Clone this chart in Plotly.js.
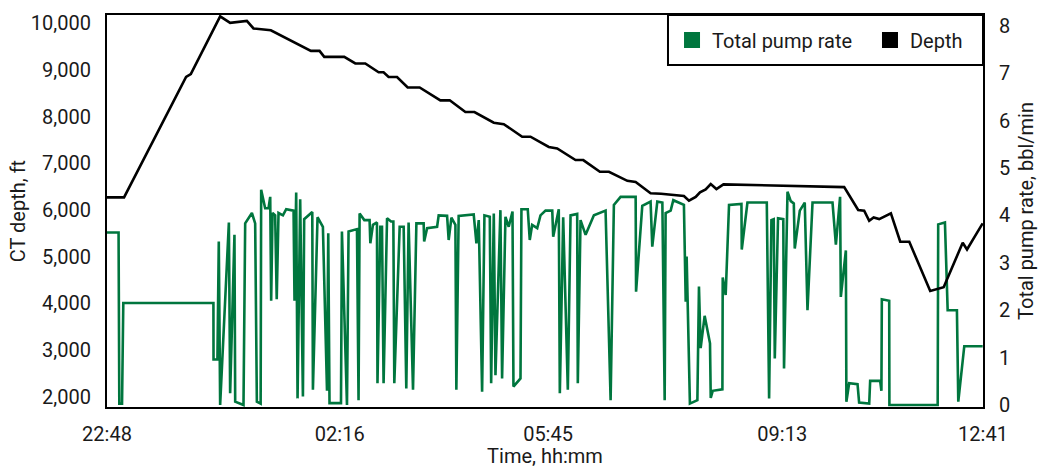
<!DOCTYPE html>
<html>
<head>
<meta charset="utf-8">
<script src="https://cdn.plot.ly/plotly-3.0.1.min.js"></script>
<style>html,body{margin:0;padding:0;background:#fff;}#chart{width:1041px;height:468px;}</style>
</head>
<body>
<div id="chart"></div>
<script>
// Elapsed minutes since 22:48
const depthTime = [0, 16.2, 75.2, 79.7, 107.6, 117.1, 133.0, 139.3, 155.8, 193.9, 202.1, 206.6, 225.6, 236.1, 245.6, 258.3, 263.0, 267.8, 275.8, 285.9, 297.3, 317.0, 325.9, 340.8, 349.4, 367.8, 377.3, 394.8, 402.7, 420.1, 428.1, 445.5, 452.9, 468.7, 477.3, 494.8, 502.7, 516.9, 526.9, 548.6, 553.4, 559.8, 563.9, 569.3, 574.1, 579.5, 586.2, 701.0, 714.3, 720.0, 724.8, 729.0, 734.3, 745.4, 754.3, 762.9, 782.8, 795.6, 813.7, 817.8, 832.7];
const depthFt = [6270, 6270, 8850, 8910, 10150, 10010, 10050, 9890, 9850, 9410, 9410, 9280, 9280, 9140, 9140, 8950, 8950, 8850, 8850, 8625, 8625, 8350, 8350, 8100, 8100, 7870, 7840, 7570, 7570, 7350, 7320, 7070, 7070, 6820, 6820, 6625, 6600, 6360, 6350, 6300, 6200, 6280, 6380, 6440, 6555, 6450, 6550, 6490, 6000, 5985, 5770, 5840, 5805, 5930, 5320, 5320, 4265, 4345, 5300, 5155, 5715];

const pumpTime = [0, 11.0, 11.7, 14.3, 15.5, 101.2, 101.3, 105.0, 106.3, 107.6, 115.9, 117.1, 121.2, 121.9, 129.8, 131.4, 137.8, 140.9, 142.5, 146.1, 146.6, 150.4, 153.6, 155.2, 156.1, 157.4, 159.9, 161.4, 163.1, 167.3, 170.4, 177.4, 178.3, 179.9, 181.2, 183.7, 186.3, 187.5, 195.2, 195.8, 200.2, 205.3, 209.2, 210.4, 211.6, 222.5, 223.4, 228.2, 229.7, 237.7, 239.2, 240.2, 244.7, 249.7, 250.4, 252.9, 256.7, 257.2, 259.9, 261.5, 263.0, 266.3, 270.1, 272.3, 273.2, 278.3, 282.1, 284.6, 286.8, 291.0, 294.2, 301.1, 301.6, 304.4, 313.9, 315.4, 323.4, 324.9, 327.5, 331.3, 332.2, 334.4, 348.7, 351.3, 353.5, 356.7, 358.9, 364.0, 365.3, 367.8, 369.4, 374.1, 375.7, 378.9, 382.0, 385.6, 386.5, 393.2, 394.1, 400.1, 402.0, 404.3, 409.1, 412.2, 417.0, 423.4, 424.3, 429.6, 430.6, 433.8, 438.2, 440.8, 447.1, 447.7, 450.3, 455.1, 463.0, 474.1, 478.9, 482.0, 488.4, 502.7, 503.1, 509.0, 516.9, 518.5, 523.3, 528.1, 530.3, 531.2, 536.0, 538.5, 548.6, 550.3, 551.2, 554.3, 561.4, 562.9, 564.5, 568.3, 573.4, 574.1, 576.0, 585.2, 585.5, 588.3, 591.5, 603.3, 603.6, 609.0, 627.4, 629.6, 631.8, 634.0, 635.0, 638.1, 643.1, 643.8, 647.1, 650.2, 653.1, 654.0, 658.8, 663.5, 666.1, 670.9, 689.9, 693.1, 697.1, 697.8, 702.6, 703.1, 705.7, 713.7, 715.2, 724.8, 725.7, 735.2, 736.4, 736.8, 743.8, 744.0, 789.9, 790.4, 796.8, 799.4, 808.2, 809.5, 815.2, 832.7];
const pumpRate = [3.64, 3.64, 0.03, 0.03, 2.15, 2.15, 0.96, 0.96, 3.45, 0.0, 3.85, 0.25, 3.59, 0.07, 0.0, 3.83, 4.05, 3.83, 0.07, 0.03, 4.54, 4.15, 4.15, 4.39, 2.2, 4.05, 4.0, 2.23, 4.05, 4.0, 4.13, 4.1, 2.2, 4.48, 0.14, 4.34, 0.18, 3.92, 4.07, 0.32, 3.96, 3.76, 0.3, 3.62, 0.04, 0.04, 3.66, 0.0, 3.66, 3.71, 0.1, 4.04, 3.9, 3.9, 3.41, 3.8, 3.85, 0.46, 3.76, 3.76, 0.46, 3.94, 3.87, 3.87, 0.46, 3.76, 3.76, 0.35, 3.85, 0.32, 3.83, 3.83, 3.45, 3.73, 3.76, 4.0, 3.99, 3.48, 3.95, 3.8, 0.32, 3.99, 4.02, 3.41, 3.9, 0.28, 4.0, 3.97, 0.46, 4.04, 0.63, 4.11, 0.56, 3.97, 3.76, 4.08, 0.39, 0.56, 4.13, 4.13, 3.48, 3.8, 3.73, 4.0, 4.1, 4.1, 3.55, 4.13, 0.25, 3.96, 0.32, 4.0, 4.03, 0.46, 3.9, 3.59, 4.0, 4.1, 0.1, 4.22, 4.39, 4.39, 2.39, 4.2, 4.29, 3.34, 4.29, 4.27, 0.1, 4.05, 4.1, 4.32, 4.22, 2.18, 3.13, 0.03, 0.1, 2.5, 1.2, 1.88, 1.3, 0.15, 0.3, 0.33, 2.69, 2.32, 4.22, 4.24, 3.28, 4.27, 4.27, 0.14, 3.9, 3.92, 0.98, 3.94, 3.92, 0.77, 4.5, 4.3, 4.25, 3.3, 4.1, 4.27, 2.0, 4.27, 4.27, 3.38, 4.39, 2.28, 3.26, 0.07, 0.46, 0.44, 0.05, 0.03, 0.51, 0.51, 0.3, 2.23, 2.2, 0.0, 0.0, 3.81, 3.85, 2.0, 2.0, 0.07, 1.24, 1.24];

const xTickVals = [0, 221.3, 419.4, 642.1, 833];
const xTickText = ['22:48', '02:16', '05:45', '09:13', '12:41'];
const depthTicks = [2000, 3000, 4000, 5000, 6000, 7000, 8000, 9000, 10000];
const depthTickText = ['2,000', '3,000', '4,000', '5,000', '6,000', '7,000', '8,000', '9,000', '10,000'];
const rateTicks = [0, 1, 2, 3, 4, 5, 6, 7, 8];

const GREEN = '#00763E';
const FONT = 'Roboto, sans-serif';
const TXT = '#1a1a1a';
const FS = 20;

const traces = [
  {x: pumpTime, y: pumpRate, type: 'scatter', mode: 'lines', name: 'Total pump rate',
   line: {color: GREEN, width: 2.6}, yaxis: 'y', showlegend: false, hoverinfo: 'skip'},
  {x: depthTime, y: depthFt, type: 'scatter', mode: 'lines', name: 'Depth',
   line: {color: '#000', width: 2.6}, yaxis: 'y2', showlegend: false, hoverinfo: 'skip'},
  {x: [null], y: [null], type: 'scatter', mode: 'markers', name: 'Total pump rate',
   marker: {symbol: 'square', size: 17, color: GREEN}, yaxis: 'y', showlegend: true, legend: 'legend'},
  {x: [null], y: [null], type: 'scatter', mode: 'markers', name: 'Depth',
   marker: {symbol: 'square', size: 17, color: '#000'}, yaxis: 'y2', showlegend: true, legend: 'legend2'}
];

const legendCommon = {
  yanchor: 'middle', y: 0.936, xanchor: 'left',
  orientation: 'h', bgcolor: 'rgba(0,0,0,0)', borderwidth: 0,
  font: {family: FONT, size: FS, color: TXT}
};

const layout = {
  width: 1041, height: 468,
  margin: {l: 107, r: 58, t: 15, b: 61, pad: 0},
  paper_bgcolor: '#fff', plot_bgcolor: '#fff',
  font: {family: FONT, size: FS, color: TXT},
  showlegend: true,
  legend: Object.assign({}, legendCommon, {x: 0.645}),
  legend2: Object.assign({}, legendCommon, {x: 0.871}),
  shapes: [{
    type: 'rect', xref: 'paper', yref: 'paper', layer: 'below',
    x0: 0.6404, x1: 1, y0: 0.8724, y1: 1,
    line: {color: '#000', width: 2}, fillcolor: '#fff'
  }],
  xaxis: {
    range: [0, 833], tickvals: xTickVals, ticktext: xTickText,
    showgrid: false, zeroline: false, ticks: '',
    showline: true, linecolor: '#000', linewidth: 2, mirror: true,
    ticklabelstandoff: 8,
    title: {text: 'Time, hh:mm', standoff: 2, font: {family: FONT, size: FS, color: TXT}},
    tickfont: {family: FONT, size: FS, color: TXT}
  },
  yaxis: {
    side: 'right', range: [-0.042, 8.226], tickvals: rateTicks,
    showgrid: false, zeroline: false, ticks: '',
    showline: true, linecolor: '#000', linewidth: 2,
    ticklabelstandoff: 10,
    title: {text: 'Total pump rate, bbl/min', standoff: 10, font: {family: FONT, size: FS, color: TXT}},
    tickfont: {family: FONT, size: FS, color: TXT}
  },
  yaxis2: {
    side: 'left', overlaying: 'y', range: [1780, 10178],
    tickvals: depthTicks, ticktext: depthTickText,
    showgrid: false, zeroline: false, ticks: '',
    showline: true, linecolor: '#000', linewidth: 2,
    ticklabelstandoff: 10,
    title: {text: 'CT depth, ft', standoff: 0, font: {family: FONT, size: FS, color: TXT}},
    tickfont: {family: FONT, size: FS, color: TXT}
  }
};

Plotly.newPlot('chart', traces, layout, {displayModeBar: false, staticPlot: true});
</script>
</body>
</html>
